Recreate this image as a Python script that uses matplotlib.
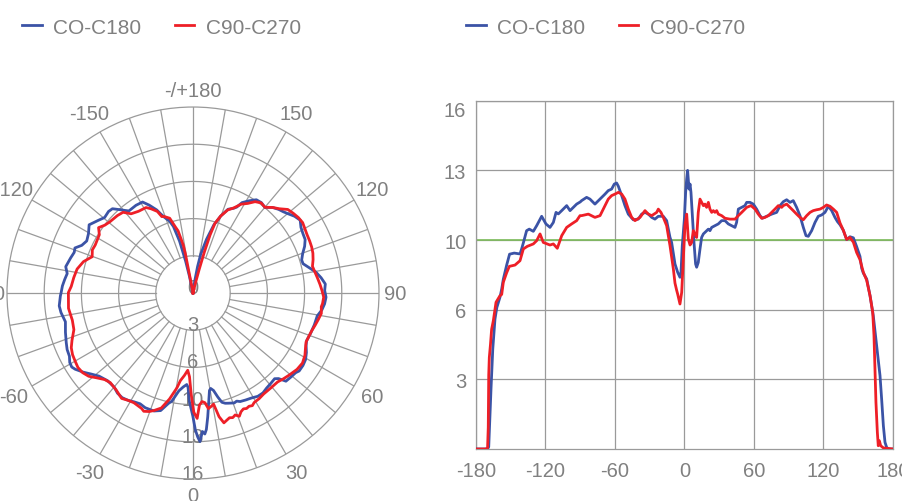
import numpy as np
import matplotlib
matplotlib.use('Agg')
import matplotlib.pyplot as plt

plt.rcParams['font.family'] = ['Liberation Sans', 'DejaVu Sans']

# Curva CO-C180 (azul): angulo (graus) e intensidade
angulos_azul = [-180, -170, -169, -168, -167, -165.5, -163.6, -162, -159.3, -157.8, -156.4,
                -153.5, -151, -147, -142, -140.6, -139, -136.3, -134, -130.5, -127.6, -123.3,
                -119.6, -116.1, -113.2, -110.9, -108.9, -106, -101.7, -98.8, -96, -93.1, -90,
                -88.8, -84.5, -81.6, -77.3, -72.9, -68.6, -65.8, -62.9, -60.6, -58.6, -57.1,
                -54.2, -51.4, -48.5, -44.2, -39.9, -37, -34.1, -31.2, -28.3, -25.5, -22.6,
                -18.3, -15.4, -12.5, -11.1, -8.2, -5.9, -3.9, -3, -1.9, -0.1, 1, 1.9, 2.7,
                3.9, 4.8, 5.6, 6.8, 8.2, 9.6, 10.5, 11.9, 13.4, 14.8, 16.3, 17.7, 20.6, 22,
                23.5, 26.3, 29.2, 32.1, 35, 37.8, 40.7, 43.6, 45, 46.5, 49.4, 52.2, 53.7,
                56.6, 59.4, 62.3, 65.2, 67.2, 70.9, 75.3, 79.6, 82.5, 85.3, 88.2, 91.1, 93.9,
                96.8, 99.7, 102.6, 104.9, 106.9, 109.8, 112.7, 115.5, 118.4, 121.3, 124.2,
                127.1, 129.9, 132, 134.3, 137.1, 140, 142.9, 145.8, 148.6, 151.5, 153, 154.4,
                157.3, 160.2, 163, 165.9, 168.8, 170.2, 171.7, 173.1, 174.5, 176, 180]
valores_azul = [0, 0, 0.1, 1.5, 2.8, 4.6, 5.97, 6.5, 6.97, 7.35, 7.8,
                8.45, 8.95, 9.0, 8.96, 9.19, 9.49, 10.03, 10.1, 10.0, 10.26, 10.69,
                10.34, 10.18, 10.41, 10.87, 10.8, 10.95, 11.18, 10.95, 11.1, 11.25, 11.35,
                11.41, 11.56, 11.48, 11.25, 11.48, 11.71, 11.87, 11.94, 12.17, 12.22, 12.07,
                11.64, 11.18, 10.79, 10.53, 10.56, 10.79, 10.87, 10.79, 10.64, 10.56, 10.69,
                10.69, 10.49, 9.72, 9.49, 8.5, 8.12, 7.89, 8.12, 9.34, 10.56, 11.79, 12.4, 12.8,
                11.94, 12.17, 11.79, 10.72, 9.49, 8.5, 8.35, 8.57, 9.19, 9.72, 9.88, 9.95, 10.1, 10.03,
                10.18, 10.26, 10.34, 10.49, 10.49, 10.34, 10.26, 10.18, 10.41, 11.02, 11.1, 11.18, 11.33,
                11.33, 11.25, 11.02, 10.72, 10.6, 10.69, 10.79, 10.87, 11.18, 11.36, 11.45, 11.33, 11.41,
                11.1, 10.72, 10.18, 9.8, 9.77, 10.03, 10.41, 10.69, 10.75, 10.87, 11.15,
                10.95, 10.64, 10.45, 10.3, 10.05, 9.62, 9.75, 9.7, 9.3, 8.85, 8.3, 8.08,
                7.81, 7.04, 6.12, 4.75, 3.37, 2.3, 1.07, 0.31, 0.08, 0, 0]

# Curva C90-C270 (vermelha)
angulos_verm = [-180, -171.5, -170, -169.4, -169, -168.5, -167.5, -166.5, -165, -162.7, -159.3,
                -157.8, -156.4, -153.5, -151.2, -146.3, -142, -139.1, -135.7, -130.5, -127.6,
                -124.7, -121.9, -116.1, -113.2, -109.8, -106, -101.7, -97.4, -93.1, -90.2, -88.8,
                -83, -77.3, -72.9, -68.6, -65.8, -62.9, -60, -57.1, -54.2, -51.4, -48.5, -45.6,
                -42.7, -38.4, -34.1, -31.2, -28.3, -24, -22.6, -20.3, -18.3, -15.4, -12.5, -9.6,
                -8.2, -6.8, -5.9, -3.9, -2.4, -1, 0.4, 1.9, 3.3, 4.8, 6.2, 7.6, 9.1, 10.5, 11.9,
                13.4, 14.8, 16.3, 17.7, 19.1, 20.6, 22, 23.5, 24.9, 26.3, 27.8, 29.2, 32.1, 35,
                39.3, 43.6, 46.5, 49.4, 53.7, 57.4, 60.9, 63.7, 66.6, 69.5, 72.4, 75.3, 78.1, 81,
                83.9, 85.3, 88.2, 91.1, 93.9, 96.8, 99.7, 102.6, 105.5, 108.4, 111.2, 114.1, 117,
                119.9, 122.7, 125.6, 128.5, 131.4, 134.3, 137.1, 140, 142.9, 145.8, 148.6, 151.5,
                154.4, 157.3, 160.2, 162.5, 163.6, 164.5, 165.3, 166.5, 167.3, 168.2, 169.4,
                171.7, 180]
valores_verm = [0, 0, 0.05, 1.0, 3.4, 4.2, 4.8, 5.5, 5.9, 6.74, 7.04,
                7.1, 7.66, 8.1, 8.39, 8.45, 8.65, 9.19, 9.31, 9.42, 9.57,
                9.88, 9.49, 9.37, 9.42, 9.22, 9.8, 10.18, 10.34, 10.49, 10.72, 10.72,
                10.79, 10.64, 10.72, 11.18, 11.48, 11.64, 11.71, 11.79, 11.71, 11.48, 11.02, 10.64,
                10.49, 10.64, 10.95, 10.79, 10.72, 10.87, 11.02, 10.87, 10.64, 10.26, 9.34, 8.27,
                7.62, 7.3, 7.12, 6.66, 7.2, 8.73, 10.26, 10.79, 9.65, 9.37, 9.49, 10.03, 9.88, 9.72, 10.87,
                11.48, 11.33, 11.18, 11.25, 11.1, 11.33, 11.02, 10.87, 10.95, 10.87, 10.95, 10.79, 10.72, 10.6,
                10.56, 10.56, 10.72, 10.87, 11.1, 11.18, 11.02, 10.79, 10.6, 10.64, 10.72, 10.87, 11.02, 11.18,
                11.1, 11.18, 11.25, 11.1, 10.95, 10.79, 10.64, 10.53, 10.72, 10.87, 10.95, 10.99, 11.02,
                11.1, 11.21, 11.15, 11.02, 10.87, 10.38, 10.05, 9.63, 9.72, 9.5, 9.03, 8.7,
                8.12, 7.75, 7.04, 6.28, 5.21, 3.67, 2.14, 0.77, 0.15, 0.38, 0.15,
                0.05, 0]

series = ['CO-C180', 'C90-C270']
cores = ['#3b53a6', '#ee1f27']

# grade radial (mesma escala nos dois graficos)
aneis = [3.2, 6.4, 9.6, 12.8, 16]
rotulos_aneis = ['3', '6', '10', '13', '16']
angulos_rotulos = [-150, -120, -90, -60, -30, 0, 30, 60, 90, 120, 150, 180]
textos_angulos = ['-150', '-120', '-90', '-60', '-30', '0', '30', '60', '90', '120', '150', '-/+180']
x_ticks = [-180, -120, -60, 0, 60, 120, 180]

cinza_texto = '#808080'
cinza_grade = '#9a9a9a'
verde = '#7cbb5a'
fs = 14.5
lw_curva = 2.0

fig = plt.figure(figsize=(9.02, 5.02), dpi=100)

# ---------------- Polar ----------------
axp = fig.add_axes([0.00776, 0.0438, 0.4124, 0.741], projection='polar')
axp.set_theta_zero_location('S')
axp.set_theta_direction(1)
axp.set_ylim(0, 16)
axp.set_xticks([])
axp.set_yticks([])
axp.grid(False)
axp.spines['polar'].set_color(cinza_grade)
axp.spines['polar'].set_linewidth(0.9)

circ = np.linspace(0, 2 * np.pi, 361)
for r in aneis[:-1]:
    axp.plot(circ, np.full_like(circ, r), color=cinza_grade, lw=0.9, zorder=1)
for a in range(0, 360, 10):
    t = np.deg2rad(a)
    axp.plot([t, t], [aneis[0], aneis[-1]], color=cinza_grade, lw=0.9, zorder=1)

axp.plot(np.deg2rad(angulos_azul), valores_azul, color=cores[0], lw=lw_curva, zorder=3, label=series[0])
axp.plot(np.deg2rad(angulos_verm), valores_verm, color=cores[1], lw=lw_curva, zorder=3, label=series[1])

# rotulos dos aneis ao longo do raio 0
axp.text(0, 0, '0', ha='center', va='baseline', fontsize=fs, color=cinza_texto, zorder=2)
for r, s in zip(aneis, rotulos_aneis):
    axp.text(0, r, s, ha='center', va='baseline', fontsize=fs, color=cinza_texto, zorder=2)

for a, s in zip(angulos_rotulos, textos_angulos):
    t = np.deg2rad(a)
    r_lab = 17.4 + 0.5 * abs(np.sin(2 * t))
    axp.text(t, r_lab, s, ha='center', va='center', fontsize=fs, color=cinza_texto, clip_on=False)

axp.legend(loc='center left', bbox_to_anchor=(22 / 902, 1 - 28 / 502), bbox_transform=fig.transFigure,
           ncol=2, frameon=False, fontsize=15, handlelength=0.95, handletextpad=0.55,
           columnspacing=1.6, borderpad=0, borderaxespad=0, labelcolor=cinza_texto)

# ---------------- Cartesiano ----------------
ax = fig.add_axes([0.5277, 0.1036, 0.4623, 0.6938])
ax.plot(angulos_azul, valores_azul, color=cores[0], lw=lw_curva, zorder=3, label=series[0])
ax.plot(angulos_verm, valores_verm, color=cores[1], lw=lw_curva, zorder=3, label=series[1])
ax.set_xlim(-180, 180)
ax.set_ylim(0, 16)
ax.set_xticks(x_ticks)
ax.set_xticklabels([str(v) for v in x_ticks])
ax.set_yticks(aneis)
ax.set_yticklabels(rotulos_aneis)
ax.get_yticklabels()[-1].set_va('top')
ax.tick_params(length=0, labelsize=fs, labelcolor=cinza_texto)
ax.tick_params(axis='x', pad=9)
ax.tick_params(axis='y', pad=7)
ax.grid(True, color=cinza_grade, lw=0.9)
ax.axhline(9.6, color=verde, lw=1.2, zorder=2)
for sp in ax.spines.values():
    sp.set_color(cinza_grade)
    sp.set_linewidth(0.9)

ax.legend(loc='center left', bbox_to_anchor=(466 / 902, 1 - 28 / 502), bbox_transform=fig.transFigure,
          ncol=2, frameon=False, fontsize=15, handlelength=0.95, handletextpad=0.55,
          columnspacing=1.6, borderpad=0, borderaxespad=0, labelcolor=cinza_texto)

fig.savefig('out.png', dpi=100)
